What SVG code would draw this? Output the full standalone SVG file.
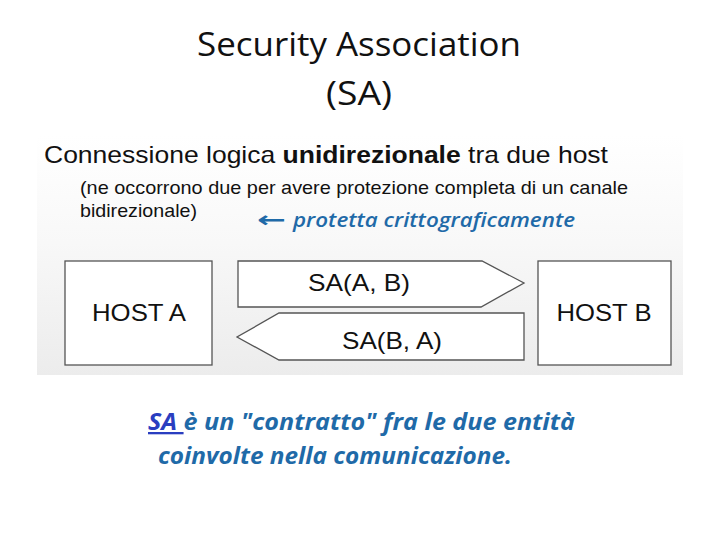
<svg xmlns="http://www.w3.org/2000/svg" width="720" height="540" viewBox="0 0 720 540">
<defs>
<linearGradient id="bg" x1="0" y1="0" x2="0" y2="1">
<stop offset="0" stop-color="#ffffff"/>
<stop offset="0.45" stop-color="#f8f8f8"/>
<stop offset="1" stop-color="#ececec"/>
</linearGradient>
</defs>
<style>
.title{font-family:"Open Sans","Noto Sans",sans-serif;font-size:32px;fill:#111;text-anchor:middle}
.ar{font-family:"Liberation Sans",Arial,sans-serif;fill:#111}
.box{fill:#fff;stroke:#555;stroke-width:1.3}
.lbl{font-family:"Liberation Sans",Arial,sans-serif;font-size:24px;fill:#111;text-anchor:middle}
.blue{font-family:"Open Sans","Noto Sans",sans-serif;font-style:italic;font-weight:bold;fill:#1f6aa8}
.blueN{font-family:"Open Sans","Noto Sans",sans-serif;font-style:italic;font-weight:600;fill:#1f6aa8}
</style>
<rect width="720" height="540" fill="#fff"/>
<text class="title" x="359" y="56" textLength="324" lengthAdjust="spacingAndGlyphs">Security Association</text>
<text class="title" x="359" y="105" textLength="66" lengthAdjust="spacingAndGlyphs">(SA)</text>
<rect x="37" y="135" width="646" height="240" fill="url(#bg)"/>
<text class="ar" x="44" y="163" font-size="24" textLength="564" lengthAdjust="spacingAndGlyphs">Connessione logica <tspan font-weight="bold">unidirezionale</tspan> tra due host</text>
<text class="ar" x="80" y="194" font-size="19" textLength="548" lengthAdjust="spacingAndGlyphs">(ne occorrono due per avere protezione completa di un canale</text>
<text class="ar" x="80" y="217" font-size="19" textLength="117" lengthAdjust="spacingAndGlyphs">bidirezionale)</text>
<text x="257" y="227" font-size="22" font-family="'DejaVu Sans',sans-serif" font-weight="bold" fill="#1f6aa8" textLength="29" lengthAdjust="spacingAndGlyphs">←</text>
<text class="blueN" x="293" y="227" font-size="20" textLength="282" lengthAdjust="spacingAndGlyphs">protetta  crittograficamente</text>
<g id="hostA">
<rect class="box" x="65" y="261" width="147" height="104"/>
<text class="lbl" x="139" y="321" textLength="94" lengthAdjust="spacingAndGlyphs">HOST A</text>
</g>
<g id="hostB">
<rect class="box" x="538" y="261" width="133" height="104"/>
<text class="lbl" x="604" y="321" textLength="95" lengthAdjust="spacingAndGlyphs">HOST B</text>
</g>
<g id="connectors">
<g id="saAB">
<polygon class="box" points="238,261 482,261 524,283 481,307 238,307"/>
<text class="lbl" x="359" y="291" textLength="102" lengthAdjust="spacingAndGlyphs">SA(A, B)</text>
</g>
<g id="saBA">
<polygon class="box" points="524,313 524,360 279,360 237,337 279,313"/>
<text class="lbl" x="392" y="349" textLength="100" lengthAdjust="spacingAndGlyphs">SA(B, A)</text>
</g>
</g>
<text class="blue" x="148" y="430" font-size="23" textLength="427" lengthAdjust="spacingAndGlyphs"><tspan fill="#2a3ec0" text-decoration="underline"> SA </tspan>è un "contratto" fra le due entità</text>
<text class="blue" x="158" y="464" font-size="23" textLength="354" lengthAdjust="spacingAndGlyphs">coinvolte nella comunicazione.</text>
</svg>
